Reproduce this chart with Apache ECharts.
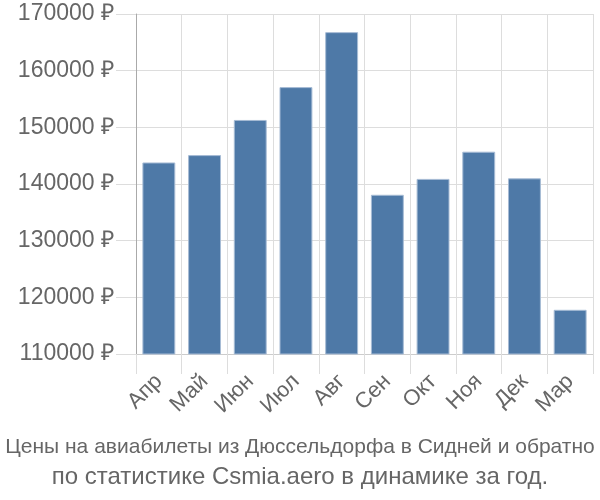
<!DOCTYPE html>
<html>
<head>
<meta charset="utf-8">
<script src="https://cdn.jsdelivr.net/npm/echarts@6/dist/echarts.min.js"></script>
<style>html,body{margin:0;padding:0;background:#fff}#c{width:600px;height:500px}</style>
</head>
<body>
<div id="c"></div>
<script>
var categories = ['Апр','Май','Июн','Июл','Авг','Сен','Окт','Ноя','Дек','Мар'];
var prices = [143800, 145100, 151300, 157100, 166800, 138100, 140900, 145700, 141000, 117800];
var yMin = 110000, yMax = 170000, yStep = 10000;
var titleLine1 = 'Цены на авиабилеты из Дюссельдорфа в Сидней и обратно';
var titleLine2 = 'по статистике Csmia.aero в динамике за год.';

var chart = echarts.init(document.getElementById('c'), null, {renderer: 'canvas'});
var font = 'Liberation Sans, Arial, sans-serif';
chart.setOption({
  animation: false,
  title: [
    {text: titleLine1, left: 'center', top: 432, textStyle: {fontFamily: font, fontSize: 21, fontWeight: 'normal', color: '#666'}},
    {text: titleLine2, left: 'center', top: 460, textStyle: {fontFamily: font, fontSize: 24, fontWeight: 'normal', color: '#666'}}
  ],
  grid: {left: 136, right: 7, top: 14, bottom: 146, containLabel: false},
  xAxis: {
    type: 'category',
    data: categories,
    boundaryGap: true,
    axisLine: {lineStyle: {color: '#ccc'}},
    axisTick: {show: true, length: 20, lineStyle: {color: '#ddd'}},
    splitLine: {show: true, lineStyle: {color: '#ddd'}},
    axisLabel: {rotate: 45, margin: 24, fontFamily: font, fontSize: 22, color: '#666'}
  },
  yAxis: {
    type: 'value',
    min: yMin, max: yMax, interval: yStep,
    axisLine: {show: true, lineStyle: {color: '#aaa'}},
    axisTick: {show: true, length: 20, lineStyle: {color: '#ddd'}},
    splitLine: {show: true, lineStyle: {color: '#ddd'}},
    axisLabel: {margin: 22, fontFamily: font, fontSize: 23, color: '#666', formatter: function (v) { return v + ' ₽'; }}
  },
  series: [{
    type: 'bar',
    data: prices,
    barCategoryGap: '28%',
    itemStyle: {color: '#4e79a7', borderColor: '#a7bcd5', borderWidth: 1}
  }]
});
</script>
</body>
</html>
